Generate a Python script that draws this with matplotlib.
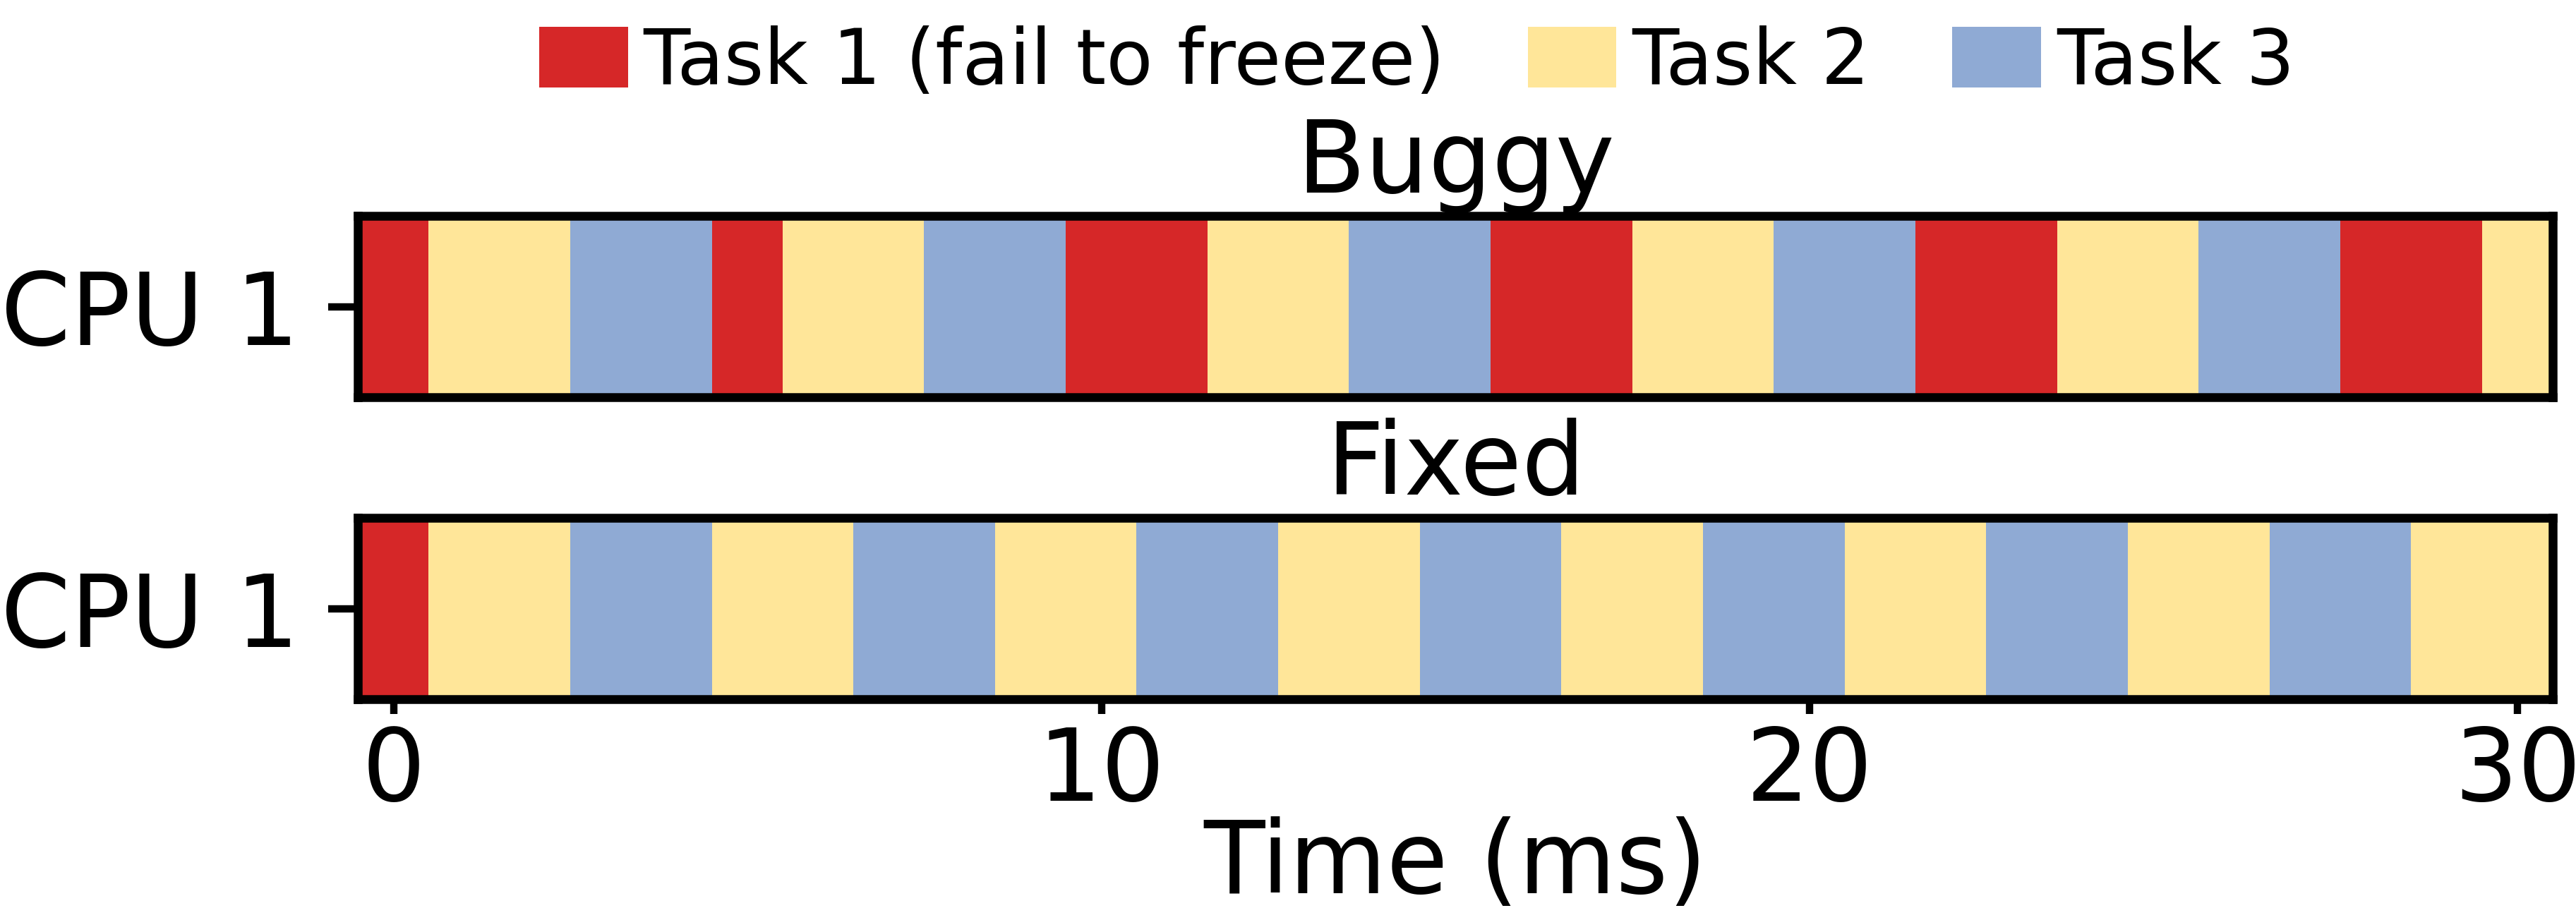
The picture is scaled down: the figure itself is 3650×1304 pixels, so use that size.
import matplotlib
matplotlib.use("Agg")
import matplotlib.pyplot as plt
import numpy as np
from matplotlib.colors import ListedColormap
from matplotlib.patches import Patch

# task running on CPU 1 in each 1 ms slot (1 = Task 1, 2 = Task 2, 3 = Task 3)
time_ms = list(range(31))
buggy = [1, 2, 2, 3, 3, 1, 2, 2, 3, 3, 1, 1, 2, 2, 3, 3,
         1, 1, 2, 2, 3, 3, 1, 1, 2, 2, 3, 3, 1, 1, 2]
fixed = [1, 2, 2, 3, 3, 2, 2, 3, 3, 2, 2, 3, 3, 2, 2, 3,
         3, 2, 2, 3, 3, 2, 2, 3, 3, 2, 2, 3, 3, 2, 2]
task_names = ["Task 1 (fail to freeze)", "Task 2", "Task 3"]
task_colors = ["#d62728", "#ffe699", "#8faad4"]
panels = ["Buggy", "Fixed"]
cpu_labels = ["CPU 1"]

cmap = ListedColormap(task_colors)

fig = plt.figure(figsize=(3650 / 300, 1304 / 300), dpi=300)
ax_buggy = fig.add_axes([0.139, 0.568, 0.852, 0.197])
ax_fixed = fig.add_axes([0.139, 0.240, 0.852, 0.197])

for ax, name, sched in zip([ax_buggy, ax_fixed], panels, [buggy, fixed]):
    ax.imshow(np.array([sched]), cmap=cmap, vmin=0.5, vmax=3.5, aspect="auto",
              interpolation="nearest",
              extent=[time_ms[0] - 0.5, time_ms[-1] + 0.5, -0.5, 0.5])
    ax.set_title(name, fontsize=34, pad=8)
    ax.set_yticks([0])
    ax.set_yticklabels(cpu_labels, fontsize=34)
    ax.set_xticks([0, 10, 20, 30])
    ax.tick_params(axis="y", length=10, width=2.5, pad=10)
    ax.tick_params(axis="x", length=5, width=2.5, labelsize=34)
    for s in ax.spines.values():
        s.set_linewidth(3)

ax_buggy.tick_params(axis="x", bottom=False, labelbottom=False)
ax_fixed.set_xlabel("Time (ms)", fontsize=34, labelpad=-2)

handles = [Patch(facecolor=c, label=n) for c, n in zip(task_colors, task_names)]
fig.legend(handles=handles, loc="center", bbox_to_anchor=(0.55, 0.932), ncol=3,
           frameon=False, fontsize=26, handlelength=1.16, handleheight=0.85,
           handletextpad=0.2, columnspacing=1.08)

fig.savefig("out.png", dpi=300)
plt.close()
